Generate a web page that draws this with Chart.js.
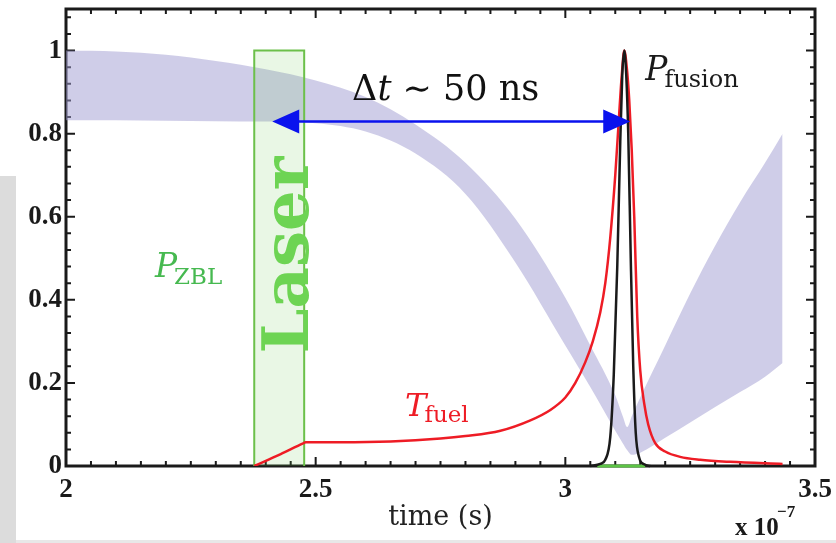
<!DOCTYPE html>
<html>
<head>
<meta charset="utf-8">
<script src="https://cdn.jsdelivr.net/npm/chart.js@4/dist/chart.umd.min.js"></script>
<style>
html, body { margin: 0; padding: 0; background: #fff; }
#c { display: block; }
</style>
</head>
<body>
<canvas id="c" width="836" height="543"></canvas>
<script>
// Données (temps en 1e-7 s)
const bandX     = [2.00, 2.10, 2.20, 2.30, 2.40, 2.50, 2.60, 2.70, 2.80, 2.90, 3.00, 3.05, 3.10, 3.115, 3.124, 3.133, 3.15, 3.20, 3.25, 3.30, 3.35, 3.40, 3.435];
const bandUpper = [1.000, 0.998, 0.990, 0.975, 0.955, 0.928, 0.888, 0.822, 0.730, 0.595, 0.405, 0.290, 0.170, 0.120, 0.094, 0.120, 0.165, 0.290, 0.415, 0.530, 0.635, 0.730, 0.800];
const bandLower = [0.832, 0.832, 0.831, 0.830, 0.829, 0.825, 0.805, 0.752, 0.655, 0.490, 0.290, 0.190, 0.085, 0.055, 0.038, 0.027, 0.032, 0.068, 0.105, 0.142, 0.178, 0.215, 0.248];

const tfuelX = [2.377, 2.43, 2.475, 2.48, 2.55, 2.65, 2.75, 2.80, 2.87, 2.93, 2.97, 3.00, 3.02, 3.04, 3.055, 3.07, 3.08, 3.09, 3.10, 3.108, 3.113, 3.118, 3.123, 3.128, 3.133, 3.138, 3.144, 3.15, 3.158, 3.166, 3.18, 3.20, 3.23, 3.27, 3.33, 3.435];
const tfuelY = [0, 0.0287, 0.0545, 0.057, 0.057, 0.059, 0.066, 0.072, 0.085, 0.11, 0.135, 0.165, 0.20, 0.25, 0.30, 0.37, 0.44, 0.55, 0.70, 0.85, 0.94, 1.0, 0.96, 0.88, 0.76, 0.60, 0.36, 0.23, 0.15, 0.10, 0.055, 0.035, 0.022, 0.015, 0.01, 0.005];

const pfusX = [3.05, 3.07, 3.08, 3.09, 3.097, 3.104, 3.11, 3.114, 3.118, 3.122, 3.126, 3.131, 3.136, 3.141, 3.148, 3.158, 3.17];
const pfusY = [0, 0.005, 0.015, 0.07, 0.22, 0.48, 0.78, 0.94, 1.0, 0.94, 0.80, 0.50, 0.24, 0.08, 0.02, 0.004, 0];

const laserX = [2.377, 2.377, 2.477, 2.477];
const laserY = [0, 1, 1, 0];
const zblX = [3.064, 3.16];
const zblY = [0, 0];

const xTicks = [2, 2.5, 3, 3.5];
const yTicks = [0, 0.2, 0.4, 0.6, 0.8, 1];

const arrowX = [2.413, 3.13];
const arrowY = 0.829;

const pts = (xs, ys) => xs.map((x, i) => ({ x: x, y: ys[i] }));

// Dessin d'un texte façon LaTeX, morceau par morceau
function drawParts(ctx, x, y, parts, color) {
    ctx.fillStyle = color;
    ctx.textBaseline = 'alphabetic';
    ctx.textAlign = 'left';
    parts.forEach(p => {
        ctx.font = p.font;
        ctx.fillText(p.t, x + (p.dx || 0), y + (p.dy || 0));
        x += ctx.measureText(p.t).width + (p.dx || 0);
    });
}

const decor = {
    id: 'decor',
    beforeDraw(chart) {
        const ctx = chart.ctx;
        ctx.save();
        ctx.fillStyle = '#fff';
        ctx.fillRect(0, 0, chart.width, chart.height);
        ctx.fillStyle = '#e8e8e8';
        ctx.fillRect(0, 540, chart.width, 3);
        ctx.fillStyle = '#dcdcdc';
        ctx.fillRect(0, 176, 16, chart.height - 176);
        ctx.restore();
    },
    beforeDatasetsDraw(chart) {
        const ctx = chart.ctx;
        const { left, right, top, bottom } = chart.chartArea;
        const xs = chart.scales.x, ys = chart.scales.y;
        ctx.save();
        ctx.strokeStyle = '#1a1a1a';
        ctx.lineWidth = 2;
        ctx.beginPath();
        for (let i = 0; i <= 30; i++) {
            const px = xs.getPixelForValue(2 + i * 0.05);
            const len = i % 10 === 0 ? 9 : 5;
            ctx.moveTo(px, bottom); ctx.lineTo(px, bottom - len);
            ctx.moveTo(px, top); ctx.lineTo(px, top + len);
        }
        for (let i = 0; i <= 27; i++) {
            const py = ys.getPixelForValue(i * 0.04);
            const len = i % 5 === 0 ? 9 : 5;
            ctx.moveTo(left, py); ctx.lineTo(left + len, py);
            ctx.moveTo(right, py); ctx.lineTo(right - len, py);
        }
        ctx.stroke();
        ctx.lineWidth = 3;
        ctx.strokeRect(left, top, right - left, bottom - top);
        ctx.restore();
    },
    afterDatasetsDraw(chart) {
        const ctx = chart.ctx;
        const xs = chart.scales.x, ys = chart.scales.y;
        ctx.save();

        // flèche double Δt
        const x1 = xs.getPixelForValue(arrowX[0]);
        const x2 = xs.getPixelForValue(arrowX[1]);
        const ay = ys.getPixelForValue(arrowY);
        ctx.strokeStyle = '#0a12ee';
        ctx.fillStyle = '#0a12ee';
        ctx.lineWidth = 2.5;
        ctx.beginPath();
        ctx.moveTo(x1 + 20, ay); ctx.lineTo(x2 - 20, ay);
        ctx.stroke();
        ctx.beginPath();
        ctx.moveTo(x1, ay); ctx.lineTo(x1 + 27, ay - 12); ctx.lineTo(x1 + 27, ay + 12); ctx.closePath();
        ctx.moveTo(x2, ay); ctx.lineTo(x2 - 27, ay - 12); ctx.lineTo(x2 - 27, ay + 12); ctx.closePath();
        ctx.fill();

        // étiquettes
        drawParts(ctx, xs.getPixelForValue(2.573), ys.getPixelForValue(0.88), [
            { t: 'Δ', font: '35px "DejaVu Serif"' },
            { t: 't', font: 'italic 35px "DejaVu Serif"' },
            { t: ' ∼ 50 ns', font: '35px "DejaVu Serif"' }
        ], '#111');
        drawParts(ctx, xs.getPixelForValue(3.16), ys.getPixelForValue(0.928), [
            { t: 'P', font: 'italic 33px "DejaVu Serif"' },
            { t: 'fusion', font: '24px "DejaVu Serif"', dy: 7, dx: -3 }
        ], '#1a1a1a');
        drawParts(ctx, xs.getPixelForValue(2.178), ys.getPixelForValue(0.454), [
            { t: 'P', font: 'italic 33px "DejaVu Serif"' },
            { t: 'ZBL', font: '23px "DejaVu Serif"', dy: 7, dx: -3 }
        ], '#46b950');
        drawParts(ctx, xs.getPixelForValue(2.679), ys.getPixelForValue(0.12), [
            { t: 'T', font: 'italic 32px "DejaVu Serif"' },
            { t: 'fuel', font: '23px "DejaVu Serif"', dy: 6, dx: -2 }
        ], '#ee1c25');

        // Laser (vertical)
        ctx.save();
        ctx.translate(xs.getPixelForValue(2.477) + 4, 255);
        ctx.rotate(-Math.PI / 2);
        ctx.font = 'bold 64px "DejaVu Serif"';
        ctx.fillStyle = '#6dd453';
        ctx.textAlign = 'center';
        ctx.textBaseline = 'alphabetic';
        ctx.fillText('Laser', 0, 0);
        ctx.restore();

        // x 10^-7
        const rx = chart.chartArea.right;
        drawParts(ctx, rx - 80, 535, [{ t: 'x 10', font: 'bold 25px "Liberation Serif"' }], '#1a1a1a');
        drawParts(ctx, rx - 38, 517, [{ t: '−7', font: 'bold 17px "Liberation Serif"' }], '#1a1a1a');
        ctx.restore();
    }
};

const tickFont = { family: 'Liberation Serif', weight: 'bold', size: 27 };

new Chart(document.getElementById('c'), {
    type: 'line',
    data: {
        datasets: [
            { data: pts(bandX, bandUpper), borderWidth: 0, pointRadius: 0, fill: false, cubicInterpolationMode: 'monotone', order: 6 },
            { data: pts(bandX, bandLower), borderWidth: 0, pointRadius: 0, fill: 0, backgroundColor: 'rgba(160,155,210,0.5)', cubicInterpolationMode: 'monotone', order: 5 },
            { data: pts(laserX, laserY), borderColor: '#6cc04a', borderWidth: 2, pointRadius: 0, fill: 'origin', backgroundColor: 'rgba(110,200,80,0.15)', tension: 0, order: 4 },
            { data: pts(zblX, zblY), borderColor: '#5cc445', borderWidth: 3, pointRadius: 0, fill: false, clip: false, order: 3 },
            { data: pts(tfuelX, tfuelY), borderColor: '#ee1c25', borderWidth: 2.5, pointRadius: 0, fill: false, cubicInterpolationMode: 'monotone', order: 2 },
            { data: pts(pfusX, pfusY), borderColor: '#1a1a1a', borderWidth: 2.5, pointRadius: 0, fill: false, cubicInterpolationMode: 'monotone', clip: false, order: 1 }
        ]
    },
    options: {
        responsive: false,
        animation: false,
        layout: { padding: { top: 9, right: 21, left: 0, bottom: 0 } },
        plugins: { legend: { display: false }, tooltip: { enabled: false } },
        scales: {
            x: {
                type: 'linear',
                min: 2,
                max: 3.5,
                afterBuildTicks: s => { s.ticks = xTicks.map(v => ({ value: v })); },
                afterFit: s => { s.height = 77; s.paddingLeft = 0; s.paddingRight = 0; },
                grid: { display: false, drawTicks: false },
                border: { display: false },
                ticks: { font: tickFont, color: '#1a1a1a', padding: 8, maxRotation: 0, autoSkip: false, callback: v => String(v) },
                title: { display: true, text: 'time (s)', font: { family: 'DejaVu Serif', size: 27 }, color: '#222', padding: { top: 0, bottom: 9 } }
            },
            y: {
                type: 'linear',
                min: 0,
                max: 1.1,
                afterBuildTicks: s => { s.ticks = yTicks.map(v => ({ value: v })); },
                afterFit: s => { s.width = 66; s.paddingTop = 0; s.paddingBottom = 0; },
                grid: { display: false, drawTicks: false },
                border: { display: false },
                ticks: { font: tickFont, color: '#1a1a1a', padding: 4, callback: v => String(v) }
            }
        }
    },
    plugins: [decor]
});
</script>
</body>
</html>
